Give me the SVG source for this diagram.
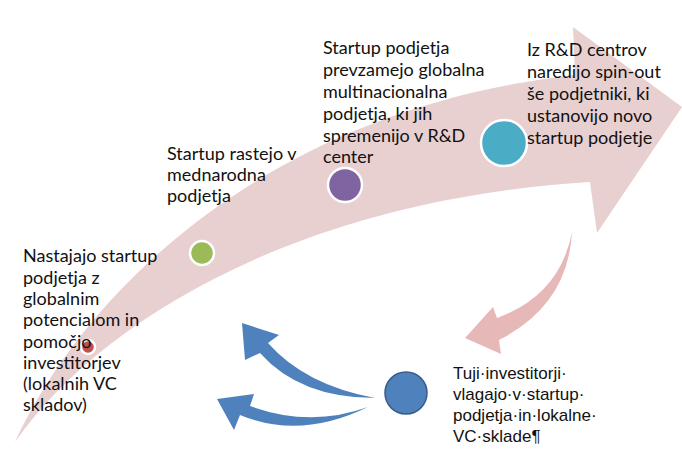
<svg xmlns="http://www.w3.org/2000/svg" width="682" height="450" viewBox="0 0 682 450">
<style>
.t{font-family:Lato,"Open Sans","Liberation Sans",sans-serif;font-size:18px;fill:#111}
.a{font-family:"Liberation Sans",Arial,sans-serif;font-size:17px;fill:#111}
.dot{stroke:#fff;stroke-width:2.5}
.blue{fill:#4F81BD}
</style>
<g id="timeline">
<path d="M15,442 C80,300 260,110 575,75 L573,27 L682,107 L597,233 L590,182 C300,200 100,320 15,442 Z" fill="#E8D0D1"/>
</g>
<g id="connectors">
<path d="M572,232 Q560,295 497,318 L493,307 L465,338 L501,354 L499,340 Q568,305 572,232 Z" fill="#E6B9B8"/>
<path class="blue" d="M375,398 Q305,385 268,343 L279,335 L242,323 L245,360 L260,353 Q300,398 375,398 Z"/>
<path class="blue" d="M368,407 Q310,428 250,406 L254,394 L217,399 L234,430 L240,415 Q300,440 368,407 Z"/>
</g>
<g id="node1">
<circle class="dot" cx="88" cy="347" r="7" fill="#C0504D"/>
<text class="t" x="23" y="262">Nastajajo startup</text>
<text class="t" x="23" y="283.5">podjetja z</text>
<text class="t" x="23" y="305">globalnim</text>
<text class="t" x="23" y="326">potencialom in</text>
<text class="t" x="23" y="347.5">pomočjo</text>
<text class="t" x="23" y="369">investitorjev</text>
<text class="t" x="23" y="390">(lokalnih VC</text>
<text class="t" x="23" y="411">skladov)</text>
</g>
<g id="node2">
<circle class="dot" cx="202" cy="253" r="12" fill="#9BBB59"/>
<text class="t" x="167" y="160">Startup rastejo v</text>
<text class="t" x="167" y="181">mednarodna</text>
<text class="t" x="167" y="202">podjetja</text>
</g>
<g id="node3">
<circle class="dot" cx="345" cy="185" r="17" fill="#8064A2"/>
<text class="t" x="323" y="54">Startup podjetja</text>
<text class="t" x="323" y="76">prevzamejo globalna</text>
<text class="t" x="323" y="98">multinacionalna</text>
<text class="t" x="323" y="120">podjetja, ki jih</text>
<text class="t" x="323" y="142">spremenijo v R&amp;D</text>
<text class="t" x="323" y="163">center</text>
</g>
<g id="node4">
<circle class="dot" cx="504" cy="143" r="23" fill="#4BACC6"/>
<text class="t" x="527" y="56">Iz R&amp;D centrov</text>
<text class="t" x="527" y="78">naredijo spin-out</text>
<text class="t" x="527" y="100">še podjetniki, ki</text>
<text class="t" x="527" y="122">ustanovijo novo</text>
<text class="t" x="527" y="144">startup podjetje</text>
</g>
<g id="node5">
<circle cx="406" cy="393" r="21" fill="#4F81BD" stroke="#385D8A" stroke-width="1.5"/>
<text class="a" x="453" y="379">Tuji·investitorji·</text>
<text class="a" x="453" y="400">vlagajo·v·startup·</text>
<text class="a" x="453" y="421">podjetja·in·lokalne·</text>
<text class="a" x="453" y="442">VC·sklade¶</text>
</g>
</svg>
